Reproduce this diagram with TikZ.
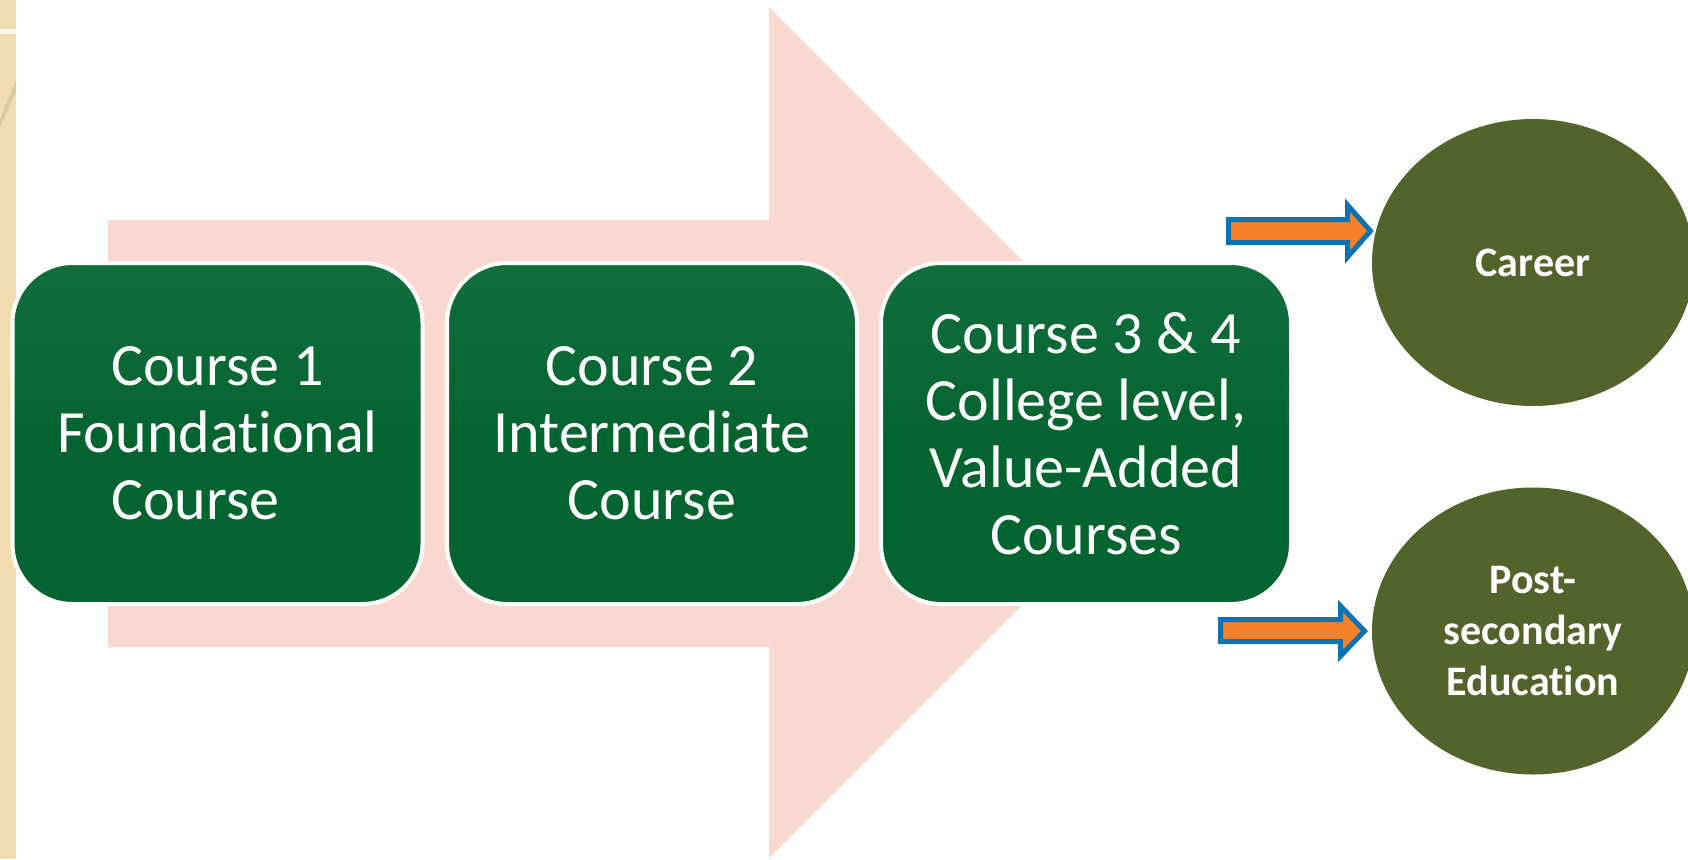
\documentclass[tikz,border=0pt]{standalone}
\usepackage{fontspec}
\setmainfont{Carlito}[Ligatures=NoCommon]
\usetikzlibrary{shapes.geometric}
\definecolor{pinkarrow}{HTML}{F9D8CF}
\definecolor{boxgreen}{HTML}{04642F}
\definecolor{boxtop}{HTML}{106E3C}
\definecolor{olive}{HTML}{52632B}
\definecolor{arroworange}{HTML}{F5812A}
\definecolor{arrowblue}{HTML}{0872B5}
\definecolor{beige}{HTML}{F2DDB2}
\definecolor{beigedark}{HTML}{D9C9A2}
\begin{document}
\begin{tikzpicture}[x=0.5pt,y=-0.5pt,
  coursebox/.style={rectangle, rounded corners=30pt, draw=white, line width=2pt,
    top color=boxtop, bottom color=boxgreen, middle color=boxgreen,
    minimum width=205pt, minimum height=170.5pt, inner sep=0pt, text=white,
    align=center, font=\fontsize{30}{33.5}\selectfont},
  outcome/.style={ellipse, fill=olive, minimum width=161pt, minimum height=143.5pt,
    inner sep=0pt, text=white, align=center,
    font=\fontsize{21}{25.5}\selectfont\bfseries},
  blockarrow/.style={fill=arroworange, draw=arrowblue, line width=2.5pt, line join=miter, miter limit=10}]
\useasboundingbox (0,0) rectangle (1688,859);
% left decorative strip
\fill[beige] (0,0) rectangle (16,859);
\fill[white!70!beige] (0,29) rectangle (16,34);
\fill[beigedark] (0,120) .. controls (5,105) and (10,95) .. (16,80) -- (16,92) .. controls (10,105) and (5,115) .. (0,128) -- cycle;
% big pink arrow
\fill[pinkarrow] (108,220) -- (769,220) -- (769,7) -- (1194.5,432.5) -- (769,858) -- (769,647) -- (108,647) -- cycle;
% course boxes
\node[coursebox] (c1) at (217.5,433.5) {Course 1\\Foundational\\Course\hphantom{ 1}};
\node[coursebox] (c2) at (652,433.5) {Course 2\\Intermediate\\Course};
\node[coursebox] (c3) at (1086,433.5) {Course 3 \& 4\\College level,\\Value-Added\\Courses};
% outcomes
\node[outcome] (career) at (1533,262.5) {Career};
\node[outcome] (post) at (1533,631) {Post-\\secondary\\Education};
% block arrows
\draw[blockarrow] (1228.5,219.5) -- (1347.5,219.5) -- (1347.5,205) -- (1370.5,231)
  -- (1347.5,257) -- (1347.5,242.5) -- (1228.5,242.5) -- cycle;
\draw[blockarrow] (1220.5,619.5) -- (1340.5,619.5) -- (1340.5,606) -- (1364.5,631)
  -- (1340.5,656) -- (1340.5,641.5) -- (1220.5,641.5) -- cycle;
\end{tikzpicture}
\end{document}
